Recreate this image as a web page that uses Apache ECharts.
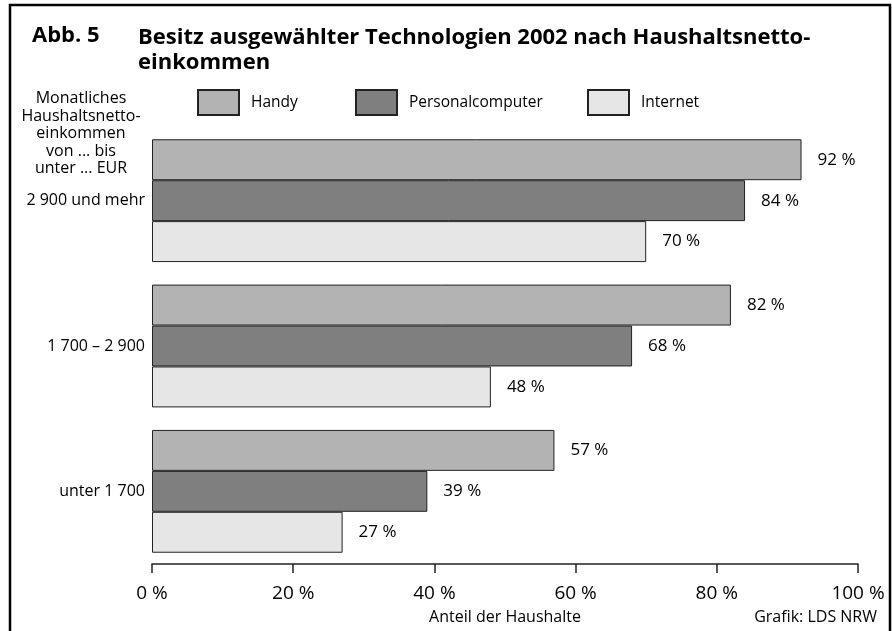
<!DOCTYPE html>
<html>
<head>
<meta charset="utf-8">
<script src="https://cdn.jsdelivr.net/npm/echarts@6/dist/echarts.min.js"></script>
<style>
html, body { margin: 0; padding: 0; background: #fff; }
#main { width: 892px; height: 631px; }
</style>
</head>
<body>
<div id="main"></div>
<script>
// Einkommensklassen (von oben nach unten)
var kategorien = ['2 900 und mehr', '1 700 – 2 900', 'unter 1 700'];
var handy = [92, 82, 57];
var pc = [84, 68, 39];
var internet = [70, 48, 27];
var achsenTicks = [0, 20, 40, 60, 80, 100];

var schrift = 'Open Sans';

var myChart = echarts.init(document.getElementById('main'));

function balken(name, daten, farbe) {
	return {
		name: name,
		type: 'bar',
		data: daten,
		barGap: 0,
		barCategoryGap: '15.5%',
		itemStyle: {
			color: farbe,
			borderColor: '#222',
			borderWidth: 1
		},
		label: {
			show: true,
			position: 'right',
			distance: 16,
			formatter: '{c} %',
			fontFamily: schrift,
			fontSize: 17,
			color: '#000'
		},
		emphasis: { disabled: true }
	};
}

//eine Legende je Eintrag, damit die Abstände stimmen
function legende(name, links) {
	return {
		left: links,
		top: 89,
		padding: 0,
		itemWidth: 41,
		itemHeight: 25,
		icon: 'rect',
		textStyle: {
			fontFamily: schrift,
			fontSize: 15.5,
			color: '#000',
			padding: [0, 0, 0, 7]
		},
		data: [name]
	};
}

option = {
	backgroundColor: '#fff',
	animation: false,
	textStyle: { fontFamily: schrift },
	graphic: [
		{ //Rahmen
			type: 'rect',
			shape: { x: 10, y: 5, width: 880, height: 640 },
			style: { fill: 'none', stroke: '#000', lineWidth: 2.5 }
		},
		{
			type: 'text',
			left: 32, top: 25,
			style: { text: 'Abb. 5', font: 'bold 22px "Open Sans"', fill: '#000' }
		},
		{
			type: 'text',
			left: 138, top: 25,
			style: {
				text: 'Besitz ausgewählter Technologien 2002 nach Haushaltsnetto-\neinkommen',
				font: 'bold 22px "Open Sans"', lineHeight: 25, fill: '#000'
			}
		},
		{ //Kopf der Kategorieachse
			type: 'text',
			x: 81, y: 90,
			style: {
				text: 'Monatliches\nHaushaltsnetto-\neinkommen\nvon ... bis\nunter ... EUR',
				font: '16px "Open Sans"', lineHeight: 17.5, align: 'center', fill: '#000'
			}
		},
		{
			type: 'text',
			right: 15, top: 609,
			style: { text: 'Grafik: LDS NRW', font: '16px "Open Sans"', fill: '#000' }
		}
	],
	legend: [
		legende('Handy', 197),
		legende('Personalcomputer', 355),
		legende('Internet', 587)
	],
	grid: {
		left: 152,
		top: 128,
		width: 706,
		height: 436
	},
	xAxis: {
		type: 'value',
		min: 0,
		max: 100,
		interval: 20,
		name: 'Anteil der Haushalte',
		nameLocation: 'middle',
		nameGap: 45,
		nameTextStyle: { fontFamily: schrift, fontSize: 16, color: '#000' },
		axisLine: { show: true, lineStyle: { color: '#222', width: 1.5 } },
		axisTick: { show: true, length: 9, lineStyle: { color: '#222', width: 1.5 } },
		axisLabel: {
			formatter: '{value} %',
			fontFamily: schrift,
			fontSize: 19,
			color: '#000',
			margin: 20,
			customValues: achsenTicks
		},
		splitLine: { show: false }
	},
	yAxis: {
		type: 'category',
		inverse: true,
		data: kategorien,
		axisLine: { show: false },
		axisTick: { show: false },
		axisLabel: { fontFamily: schrift, fontSize: 16, color: '#000', margin: 7 }
	},
	series: [
		balken('Handy', handy, '#b3b3b3'),
		balken('Personalcomputer', pc, '#7f7f7f'),
		balken('Internet', internet, '#e6e6e6')
	]
};

myChart.setOption(option);
</script>
</body>
</html>
